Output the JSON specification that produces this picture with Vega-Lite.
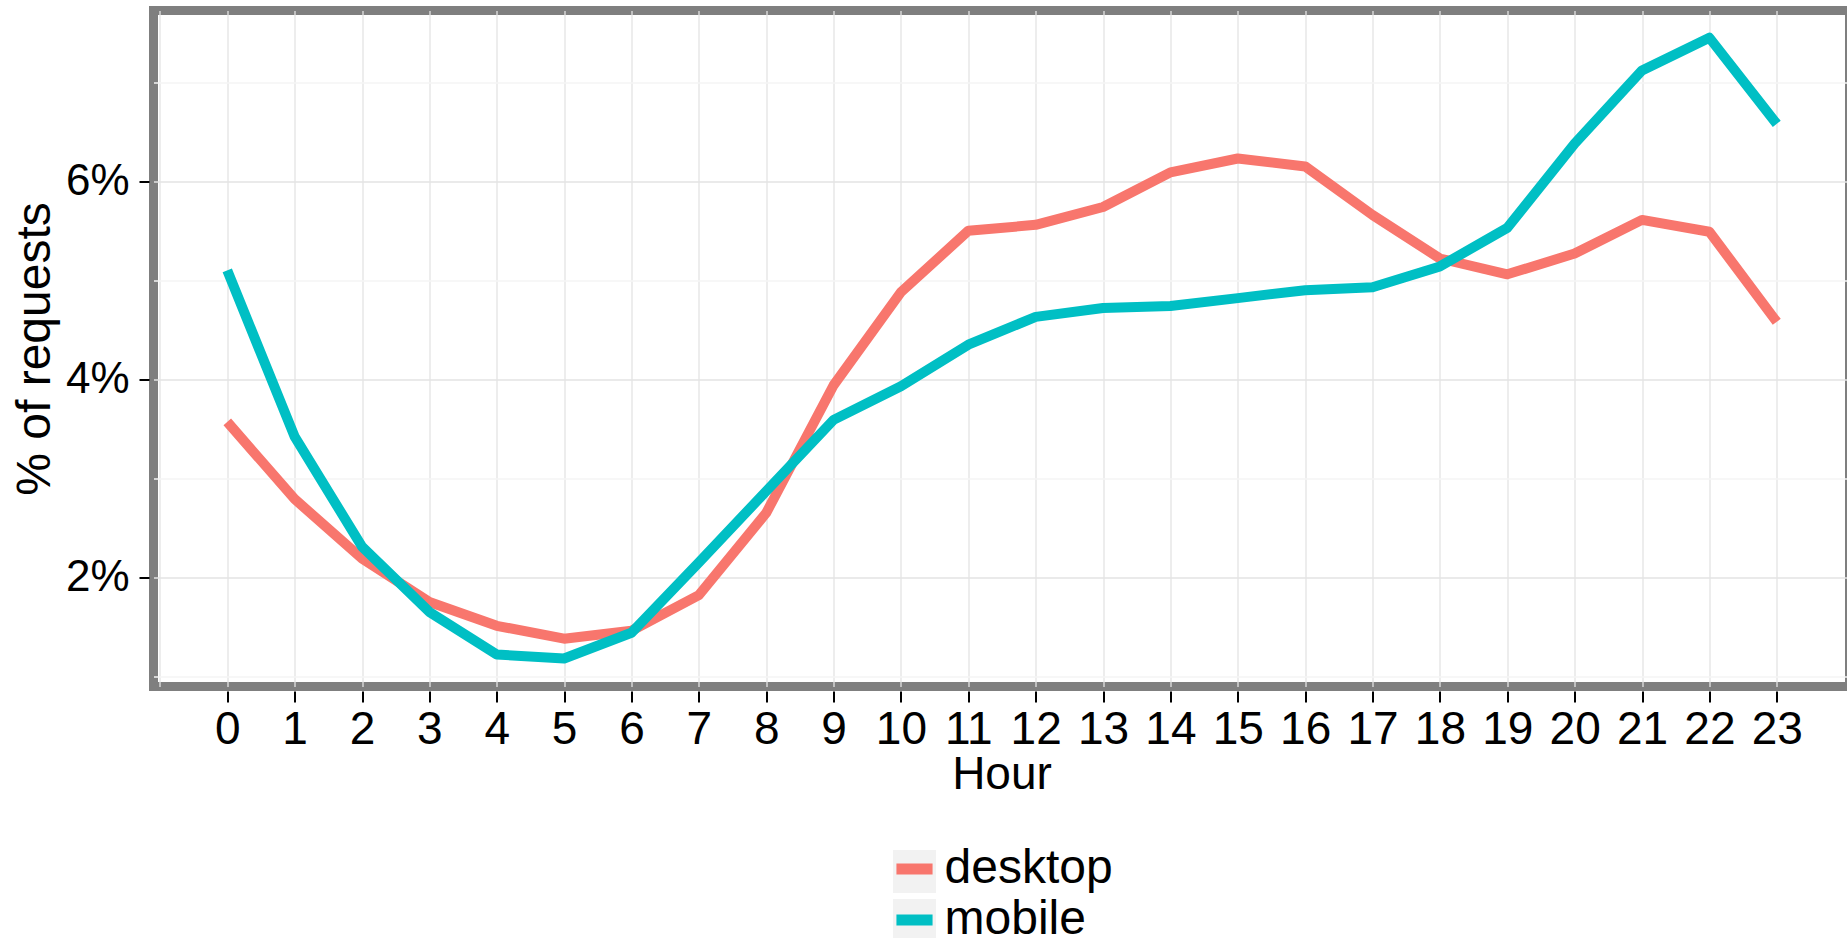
{
  "$schema": "https://vega.github.io/schema/vega-lite/v6.json",
  "autosize": "none",
  "width": 1696,
  "height": 676,
  "padding": {"left": 153.5, "top": 10.5, "right": -2.5, "bottom": 251.5},
  "background": "white",
  "config": {
    "font": "Liberation Sans",
    "view": {"stroke": "#7f7f7f", "strokeWidth": 9, "fill": "white"},
    "axis": {"labelColor": "#000000", "titleColor": "#000000", "titleFontWeight": "normal", "domain": false, "tickColor": "#000000", "tickWidth": 2}
  },
  "data": {"values": [
    {"hour": 0, "device": "desktop", "pct": 3.57},
    {"hour": 1, "device": "desktop", "pct": 2.79},
    {"hour": 2, "device": "desktop", "pct": 2.19},
    {"hour": 3, "device": "desktop", "pct": 1.75},
    {"hour": 4, "device": "desktop", "pct": 1.51},
    {"hour": 5, "device": "desktop", "pct": 1.38},
    {"hour": 6, "device": "desktop", "pct": 1.46},
    {"hour": 7, "device": "desktop", "pct": 1.82},
    {"hour": 8, "device": "desktop", "pct": 2.65},
    {"hour": 9, "device": "desktop", "pct": 3.94},
    {"hour": 10, "device": "desktop", "pct": 4.88},
    {"hour": 11, "device": "desktop", "pct": 5.50},
    {"hour": 12, "device": "desktop", "pct": 5.56},
    {"hour": 13, "device": "desktop", "pct": 5.74},
    {"hour": 14, "device": "desktop", "pct": 6.09},
    {"hour": 15, "device": "desktop", "pct": 6.23},
    {"hour": 16, "device": "desktop", "pct": 6.15},
    {"hour": 17, "device": "desktop", "pct": 5.66},
    {"hour": 18, "device": "desktop", "pct": 5.22},
    {"hour": 19, "device": "desktop", "pct": 5.06},
    {"hour": 20, "device": "desktop", "pct": 5.27},
    {"hour": 21, "device": "desktop", "pct": 5.61},
    {"hour": 22, "device": "desktop", "pct": 5.49},
    {"hour": 23, "device": "desktop", "pct": 4.58},
    {"hour": 0, "device": "mobile", "pct": 5.10},
    {"hour": 1, "device": "mobile", "pct": 3.42},
    {"hour": 2, "device": "mobile", "pct": 2.31},
    {"hour": 3, "device": "mobile", "pct": 1.65},
    {"hour": 4, "device": "mobile", "pct": 1.22},
    {"hour": 5, "device": "mobile", "pct": 1.18},
    {"hour": 6, "device": "mobile", "pct": 1.44},
    {"hour": 7, "device": "mobile", "pct": 2.15},
    {"hour": 8, "device": "mobile", "pct": 2.87},
    {"hour": 9, "device": "mobile", "pct": 3.59},
    {"hour": 10, "device": "mobile", "pct": 3.93},
    {"hour": 11, "device": "mobile", "pct": 4.35},
    {"hour": 12, "device": "mobile", "pct": 4.63},
    {"hour": 13, "device": "mobile", "pct": 4.72},
    {"hour": 14, "device": "mobile", "pct": 4.74},
    {"hour": 15, "device": "mobile", "pct": 4.82},
    {"hour": 16, "device": "mobile", "pct": 4.90},
    {"hour": 17, "device": "mobile", "pct": 4.93},
    {"hour": 18, "device": "mobile", "pct": 5.14},
    {"hour": 19, "device": "mobile", "pct": 5.53},
    {"hour": 20, "device": "mobile", "pct": 6.38},
    {"hour": 21, "device": "mobile", "pct": 7.12},
    {"hour": 22, "device": "mobile", "pct": 7.45},
    {"hour": 23, "device": "mobile", "pct": 6.58}
  ]},
  "encoding": {
    "x": {
      "field": "hour", "type": "quantitative",
      "scale": {"domain": [-1.095, 24.08], "nice": false, "zero": false},
      "axis": {
        "title": "Hour",
        "values": [-1, -0.5, 0, 0.5, 1, 1.5, 2, 2.5, 3, 3.5, 4, 4.5, 5, 5.5, 6, 6.5, 7, 7.5, 8, 8.5, 9, 9.5, 10, 10.5, 11, 11.5, 12, 12.5, 13, 13.5, 14, 14.5, 15, 15.5, 16, 16.5, 17, 17.5, 18, 18.5, 19, 19.5, 20, 20.5, 21, 21.5, 22, 22.5, 23, 23.5],
        "labelExpr": "(datum.value % 1 === 0 && datum.value >= 0) ? datum.label : ''",
        "format": "d",
        "labelFontSize": 46,
        "labelPadding": 5,
        "labelFlush": false,
        "labelOverlap": false,
        "offset": 4.5,
        "tickSize": 11,
        "tickOpacity": {"condition": {"test": "datum.value % 1 !== 0 || datum.value < 0", "value": 0}, "value": 1},
        "grid": true,
        "gridColor": {"condition": {"test": "datum.value % 1 !== 0", "value": "#f4f4f4"}, "value": "#e3e3e3"},
        "gridWidth": 1.3,
        "titleFontSize": 46,
        "titlePadding": 0
      }
    },
    "y": {
      "field": "pct", "type": "quantitative",
      "scale": {"domain": [0.897, 7.725], "nice": false, "zero": false},
      "axis": {
        "title": "% of requests",
        "values": [1, 2, 3, 4, 5, 6, 7],
        "labelExpr": "datum.value % 2 === 0 ? datum.value + '%' : ''",
        "labelFontSize": 44,
        "labelPadding": 10,
        "labelFlush": false,
        "labelOverlap": false,
        "offset": 4.5,
        "tickSize": 10,
        "tickOpacity": {"condition": {"test": "datum.value % 2 !== 0", "value": 0}, "value": 1},
        "grid": true,
        "gridColor": {"condition": {"test": "datum.value % 2 !== 0", "value": "#f4f4f4"}, "value": "#e3e3e3"},
        "gridWidth": 1.3,
        "titleFontSize": 48,
        "titlePadding": 6
      }
    }
  },
  "layer": [
    {
      "transform": [{"calculate": "datum.device", "as": "keybg"}],
      "mark": {"type": "point", "shape": "square", "filled": true, "opacity": 0, "size": 1},
      "encoding": {
        "fill": {
          "field": "keybg", "type": "nominal",
          "scale": {"range": ["#f2f2f2", "#f2f2f2"]},
          "legend": {
            "title": null, "orient": "none", "legendX": 738, "legendY": 838,
            "symbolType": "square", "symbolSize": 1849, "symbolOpacity": 1, "symbolStrokeWidth": 0,
            "symbolFillColor": "#f2f2f2",
            "labelExpr": "''", "labelFontSize": 46, "labelOffset": 0, "rowPadding": 3, "padding": 0, "zindex": 0
          }
        }
      }
    },
    {
      "mark": {"type": "line", "strokeWidth": 10, "strokeCap": "butt", "strokeJoin": "round"},
      "encoding": {
        "stroke": {
          "field": "device", "type": "nominal",
          "scale": {"domain": ["desktop", "mobile"], "range": ["#F8766D", "#00BFC4"]},
          "legend": {
            "title": null, "orient": "none", "legendX": 734, "legendY": 831.5,
            "symbolType": "M-0.84,0L0.84,0", "symbolSize": 1849, "symbolStrokeWidth": 11,
            "labelFontSize": 48, "labelColor": "#000000", "labelLimit": 500, "labelOffset": 3, "rowPadding": -3, "padding": 0, "zindex": 1
          }
        }
      }
    }
  ]
}
